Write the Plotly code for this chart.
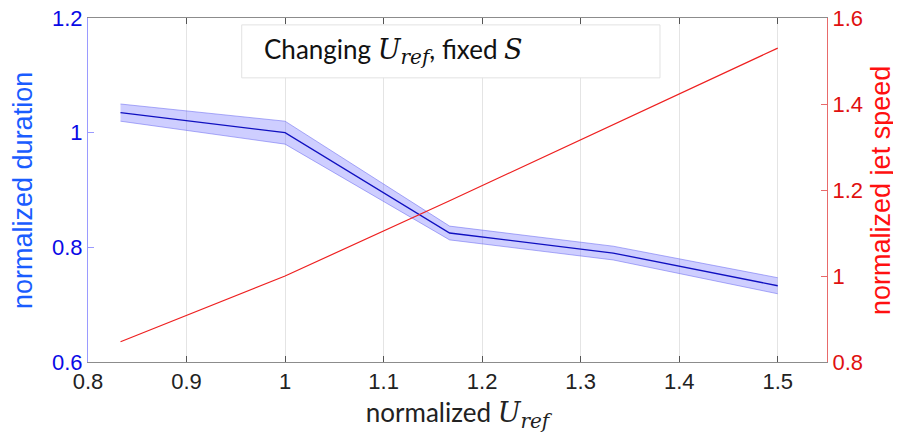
import plotly.graph_objects as go

u_ref = [0.833, 1.0, 1.167, 1.333, 1.5]
duration = [1.035, 1.0, 0.825, 0.790, 0.733]
duration_err = [0.015, 0.02, 0.012, 0.012, 0.014]
jet_speed = [0.847, 1.0, 1.175, 1.352, 1.53]
x_ticks = [0.8, 0.9, 1.0, 1.1, 1.2, 1.3, 1.4, 1.5]
x_ticklabels = ["0.8", "0.9", "1", "1.1", "1.2", "1.3", "1.4", "1.5"]
y1_ticks = [0.6, 0.8, 1.0, 1.2]
y1_ticklabels = ["0.6", "0.8", "1", "1.2"]
y2_ticks = [0.8, 1.0, 1.2, 1.4, 1.6]
y2_ticklabels = ["0.8", "1", "1.2", "1.4", "1.6"]

upper = [d + e for d, e in zip(duration, duration_err)]
lower = [d - e for d, e in zip(duration, duration_err)]

TICKFONT = "Liberation Sans, Arial, sans-serif"
MATH = ("<span style=\"font-family:'DejaVu Serif', serif; font-size:27px\"><i>U</i></span>"
        "<sub><span style=\"font-family:'DejaVu Serif', serif; font-size:20px\"><i>ref</i></span></sub>")
MATH_S = "<span style=\"font-family:'DejaVu Serif', serif; font-size:27px\"><i>S</i></span>"

fig = go.Figure()
fig.add_trace(go.Scatter(x=u_ref, y=lower, mode="lines",
                         line=dict(color="rgba(110,110,240,0.7)", width=0.8),
                         showlegend=False, hoverinfo="skip"))
fig.add_trace(go.Scatter(x=u_ref, y=upper, mode="lines", fill="tonexty",
                         fillcolor="rgba(60,60,255,0.25)",
                         line=dict(color="rgba(110,110,240,0.7)", width=0.8),
                         showlegend=False, hoverinfo="skip"))
fig.add_trace(go.Scatter(x=u_ref, y=duration, mode="lines",
                         line=dict(color="#1010c0", width=1.3), showlegend=False))
fig.add_trace(go.Scatter(x=u_ref, y=jet_speed, mode="lines", yaxis="y2",
                         line=dict(color="#ee2020", width=1.2), showlegend=False))

fig.update_layout(
    width=893, height=431,
    margin=dict(l=80, r=74, t=10, b=77, autoexpand=False),
    plot_bgcolor="white", paper_bgcolor="white",
    xaxis=dict(range=[0.8, 1.55], tickvals=x_ticks, ticktext=x_ticklabels,
               automargin=False, ticklabeloverflow="allow",
               showgrid=True, gridcolor="#e4e4e4", gridwidth=1,
               zeroline=False, showline=True, linecolor="#8c8c8c", linewidth=1,
               mirror="ticks", ticks="inside", ticklen=6, tickcolor="#555555",
               tickfont=dict(family=TICKFONT, size=22, color="#222222"),
               title=dict(text="normalized " + MATH,
                          font=dict(family="Lato, sans-serif", size=26, color="#222222"),
                          standoff=10)),
    yaxis=dict(range=[0.6, 1.2], tickvals=y1_ticks, ticktext=y1_ticklabels,
               automargin=False, ticklabeloverflow="allow",
               showgrid=False, zeroline=False, showline=True,
               linecolor="#9a9aff", linewidth=1,
               ticks="inside", ticklen=6, tickcolor="#9a9aff",
               tickfont=dict(family=TICKFONT, size=22, color="#0a0ae6")),
    yaxis2=dict(range=[0.8, 1.6], tickvals=y2_ticks, ticktext=y2_ticklabels,
                automargin=False, ticklabeloverflow="allow",
                overlaying="y", side="right", anchor="x",
                showgrid=False, zeroline=False, showline=True,
                linecolor="#e86a6a", linewidth=1,
                ticks="inside", ticklen=6, tickcolor="#e86a6a",
                tickfont=dict(family=TICKFONT, size=22, color="#e01010")),
    shapes=[dict(type="rect", xref="paper", yref="paper",
                 x0=0.208, x1=0.774, y0=0.826, y1=0.98,
                 fillcolor="white", line=dict(color="#e2e2e2", width=1),
                 layer="above")],
    annotations=[
        dict(xref="paper", yref="paper", x=0.235, y=0.905,
             xanchor="left", yanchor="middle", showarrow=False,
             text="Changing " + MATH + ", fixed " + MATH_S,
             font=dict(family="Lato, sans-serif", size=26, color="#111111")),
        dict(xref="paper", yref="paper", x=-0.088, y=0.5, xanchor="center",
             yanchor="middle", textangle=-90, showarrow=False,
             text="normalized duration",
             font=dict(family=TICKFONT, size=27, color="#1a5cff")),
        dict(xref="paper", yref="paper", x=1.073, y=0.5, xanchor="center",
             yanchor="middle", textangle=-90, showarrow=False,
             text="normalized jet speed",
             font=dict(family=TICKFONT, size=27, color="#ff1010")),
    ],
)

fig.write_html("out.html")
